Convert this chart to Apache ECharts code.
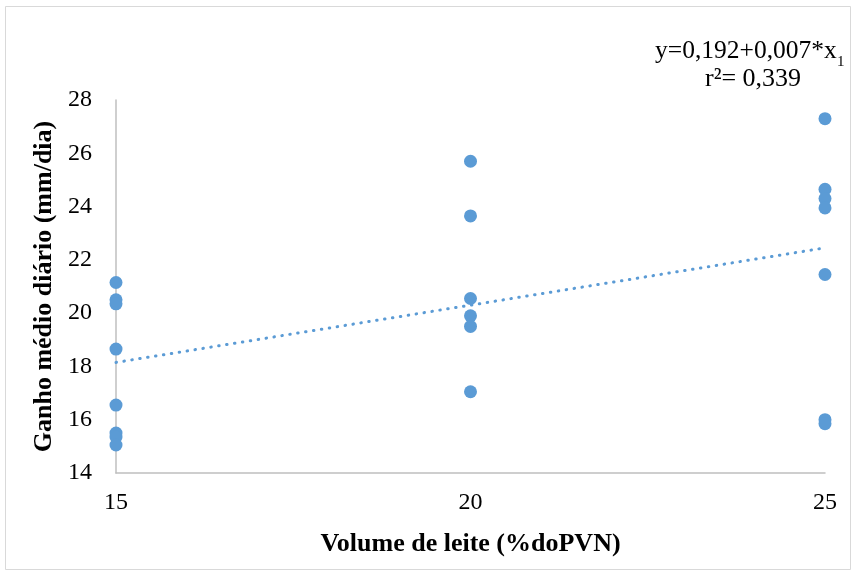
<!DOCTYPE html>
<html><head><meta charset="utf-8">
<script src="https://cdn.jsdelivr.net/npm/echarts@6/dist/echarts.min.js"></script>
<style>html,body{margin:0;padding:0;background:#fff}#c{width:856px;height:575px}</style>
</head><body><div id="c"></div>
<script>
var xValues = [15,15,15,15,15,15,15,15, 20,20,20,20,20,20, 25,25,25,25,25,25,25];
var yValues = [21.15,20.5,20.35,18.65,16.55,15.5,15.35,15.05, 25.7,23.65,20.55,19.9,19.5,17.05, 27.3,24.65,24.3,23.95,21.45,16.0,15.85];
var trendX = [15, 25];
var trendY = [18.15, 22.45];
var xTicks = [15, 20, 25];
var yTicks = [14, 16, 18, 20, 22, 24, 26, 28];
var eqText = 'y=0,192+0,007*x';
var eqSub = '1';
var r2Text = 'r²= 0,339';

var font = '"Liberation Serif","Times New Roman",serif';
var chart = echarts.init(document.getElementById('c'));
chart.setOption({
  animation: false,
  backgroundColor: '#fff',
  grid: {left: 116, right: 31, top: 100, bottom: 102},
  xAxis: {
    type: 'value', min: xTicks[0], max: xTicks[xTicks.length-1], interval: 5,
    axisLine: {lineStyle: {color: '#bfbfbf', width: 1.5}},
    axisTick: {show: false}, splitLine: {show: false},
    axisLabel: {color: '#000', fontFamily: font, fontSize: 24, margin: 18},
    name: 'Volume de leite (%doPVN)', nameLocation: 'middle', nameGap: 58,
    nameTextStyle: {color: '#000', fontFamily: font, fontSize: 26, fontWeight: 'bold'}
  },
  yAxis: {
    type: 'value', min: yTicks[0], max: yTicks[yTicks.length-1], interval: 2,
    axisLine: {show: true, lineStyle: {color: '#bfbfbf', width: 1.5}},
    axisTick: {show: false}, splitLine: {show: false},
    axisLabel: {color: '#000', fontFamily: font, fontSize: 24, margin: 24},
    name: 'Ganho médio diário (mm/dia)', nameLocation: 'middle', nameGap: 56,
    nameTextStyle: {color: '#000', fontFamily: font, fontSize: 26, fontWeight: 'bold'}
  },
  series: [
    {type: 'line', data: trendX.map(function(x,i){return [x, trendY[i]];}),
     symbol: 'none', lineStyle: {color: '#5b9bd5', width: 3, type: [0.5, 7.5], cap: 'round'}, z: 1},
    {type: 'scatter', data: xValues.map(function(x,i){return [x, yValues[i]];}),
     symbolSize: 13, itemStyle: {color: '#5b9bd5', opacity: 1}, z: 2}
  ],
  graphic: [
    {type: 'rect', shape: {x: 5.5, y: 6.5, width: 845, height: 563}, style: {fill: 'none', stroke: '#d9d9d9', lineWidth: 1}, silent: true},
    {type: 'text', left: 655, top: 38, style: {text: eqText, font: '25.5px ' + font, fill: '#000'}},
    {type: 'text', left: 837, top: 55, style: {text: eqSub, font: '15px ' + font, fill: '#000'}},
    {type: 'text', left: 705, top: 66, style: {text: r2Text, font: '26px ' + font, fill: '#000'}}
  ]
});
</script></body></html>
